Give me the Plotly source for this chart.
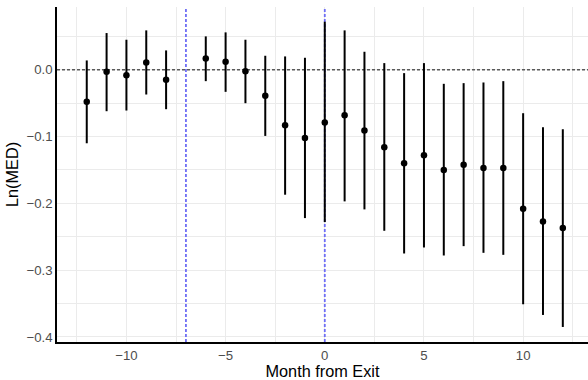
import plotly.graph_objects as go

# Event-study estimates: month relative to exit (month -7 is the reference period)
months = [-12, -11, -10, -9, -8, -6, -5, -4, -3, -2, -1, 0, 1, 2, 3, 4, 5, 6, 7, 8, 9, 10, 11, 12]
estimate = [-0.048, -0.003, -0.008, 0.011, -0.015, 0.017, 0.012, -0.002, -0.039, -0.083,
            -0.102, -0.079, -0.068, -0.091, -0.116, -0.140, -0.128, -0.150, -0.142, -0.147,
            -0.147, -0.208, -0.227, -0.237]
ci_upper = [0.014, 0.055, 0.045, 0.059, 0.029, 0.050, 0.056, 0.045, 0.021, 0.020,
            0.018, 0.072, 0.059, 0.027, 0.010, -0.005, 0.010, -0.021, -0.020, -0.019,
            -0.017, -0.065, -0.086, -0.089]
ci_lower = [-0.110, -0.062, -0.061, -0.037, -0.059, -0.017, -0.033, -0.050, -0.099, -0.187,
            -0.222, -0.228, -0.197, -0.209, -0.241, -0.275, -0.266, -0.278, -0.264, -0.274,
            -0.277, -0.351, -0.367, -0.385]
event_lines = [-7, 0]
ref_level = 0

X_RANGE = [-13.5, 13.27]
Y_RANGE = [-0.4075, 0.094]

err_plus = [u - e for u, e in zip(ci_upper, estimate)]
err_minus = [e - l for e, l in zip(estimate, ci_lower)]

FONT = "Liberation Sans, Arial, Helvetica, sans-serif"
GRID = "#EBEBEB"

fig = go.Figure()

# reference line at zero (drawn as a trace so it sits above the grid, below the estimates)
fig.add_trace(go.Scatter(
    x=X_RANGE, y=[ref_level, ref_level], mode="lines",
    line=dict(color="#5A5A5A", width=1.5, dash="3px,2px"),
    hoverinfo="skip", showlegend=False, cliponaxis=True,
))
# exit window markers
for xv in event_lines:
    fig.add_trace(go.Scatter(
        x=[xv, xv], y=Y_RANGE, mode="lines",
        line=dict(color="#6E6EF5", width=1.8, dash="3px,2px"),
        hoverinfo="skip", showlegend=False, cliponaxis=True,
    ))

fig.add_trace(go.Scatter(
    x=months, y=estimate, mode="markers",
    marker=dict(color="black", size=6.5),
    error_y=dict(type="data", symmetric=False, array=err_plus, arrayminus=err_minus,
                 color="black", thickness=2, width=0),
    showlegend=False,
))

fig.update_layout(
    width=588, height=380,
    margin=dict(l=57, r=0, t=7, b=38),
    paper_bgcolor="white", plot_bgcolor="white",
    font=dict(family=FONT, color="black"),
)
fig.update_xaxes(
    range=X_RANGE, tickmode="linear", tick0=0, dtick=5,
    showgrid=True, gridcolor=GRID, gridwidth=1,
    minor=dict(dtick=2.5, tick0=0, showgrid=True, gridcolor=GRID, gridwidth=0.8),
    zeroline=False, showline=True, linecolor="black", linewidth=1.5,
    ticks="", tickfont=dict(size=13.2, color="#4D4D4D", family=FONT),
    title=dict(text="Month from Exit", font=dict(size=16.3, color="black", family=FONT), standoff=6),
)
fig.update_yaxes(
    range=Y_RANGE, tickmode="linear", tick0=0, dtick=0.1, tickformat=".1f",
    showgrid=True, gridcolor=GRID, gridwidth=1,
    minor=dict(dtick=0.05, tick0=0, showgrid=True, gridcolor=GRID, gridwidth=0.8),
    zeroline=False, showline=True, linecolor="black", linewidth=1.5,
    ticks="", tickfont=dict(size=13.2, color="#4D4D4D", family=FONT),
    title=dict(text="Ln(MED)", font=dict(size=16.3, color="black", family=FONT), standoff=4),
)

fig.write_html("out.html")
